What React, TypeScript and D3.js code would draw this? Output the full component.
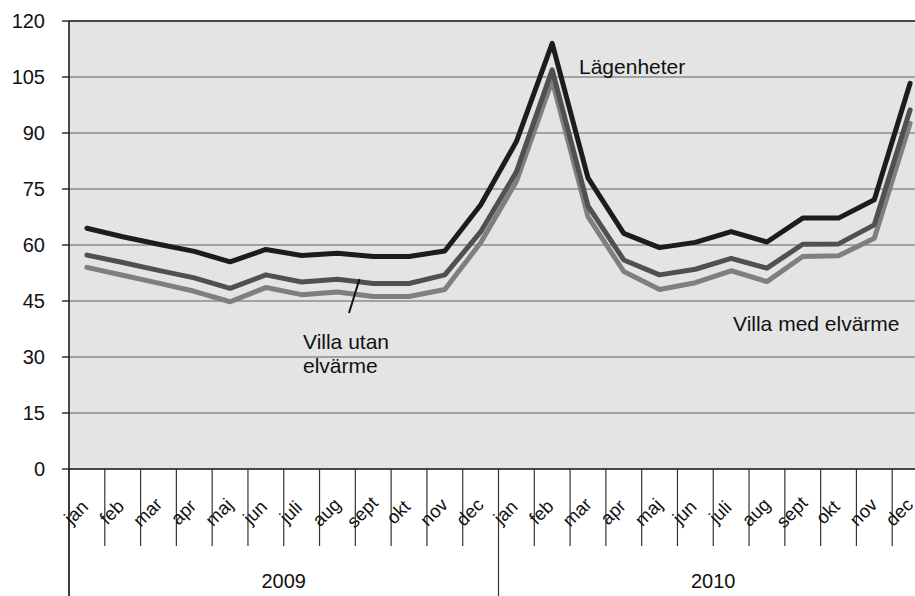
import React from 'react';
import * as d3 from 'd3';

const months = ['jan', 'feb', 'mar', 'apr', 'maj', 'jun', 'juli', 'aug', 'sept', 'okt', 'nov', 'dec'];
const years = ['2009', '2010'];
const yTicks = [0, 15, 30, 45, 60, 75, 90, 105, 120];

const lagenheter = [64.5, 62.2, 60.2, 58.3, 55.5, 58.8, 57.2, 57.8, 56.9, 56.9, 58.4, 70.7,
  87.7, 114, 78, 63.1, 59.3, 60.7, 63.6, 60.8, 67.2, 67.2, 72.1, 103.3];
const villaUtan = [57.3, 55.3, 53.2, 51.2, 48.4, 52, 50.1, 50.8, 49.7, 49.7, 52, 63.5,
  79.6, 106.9, 70.5, 56, 52, 53.5, 56.4, 53.8, 60.2, 60.3, 65.4, 96.2];
const villaMed = [54, 51.9, 49.8, 47.6, 44.8, 48.6, 46.7, 47.4, 46.2, 46.2, 48.1, 60.6,
  77, 104, 67.6, 52.9, 48.1, 49.9, 53.1, 50.2, 56.9, 57.1, 61.8, 92.6];

const series = [
  { name: 'Villa med elvärme', values: villaMed, color: '#7f7f7f' },
  { name: 'Villa utan elvärme', values: villaUtan, color: '#505050' },
  { name: 'Lägenheter', values: lagenheter, color: '#1c1c1c' },
];

const W = 915;
const H = 596;
const left = 69;
const right = 928;
const top = 21;
const bottom = 469;
const font = '"Liberation Sans", Arial, sans-serif';

export default function App() {
  const cats = years.flatMap((yr) => months.map((m) => `${m}-${yr}`));
  const x = d3.scaleBand<string>().domain(cats).range([left, right]).paddingInner(0).paddingOuter(0);
  const y = d3.scaleLinear().domain([0, 120]).range([bottom, top]);
  const cx = (i: number) => (x(cats[i]) as number) + x.bandwidth() / 2;

  const line = d3.line<number>()
    .x((_, i) => cx(i))
    .y((d) => y(d));

  const yearX = d3.scaleBand<string>().domain(years).range([left, right]);

  return (
    <svg width={W} height={H} style={{ position: 'absolute', left: 0, top: 0, background: '#fff' }}
      fontFamily={font}>
      <rect x={left} y={top} width={right - left} height={bottom - top} fill="#e4e4e4" />
      {yTicks.filter((t) => t > 0 && t < 120).map((t) => (
        <line key={t} x1={left} x2={right} y1={y(t)} y2={y(t)} stroke="#8c8c8c" strokeWidth={1.3} />
      ))}
      <line x1={left} x2={right} y1={top} y2={top} stroke="#111" strokeWidth={1.3} />

      {series.map((s) => (
        <path key={s.name} d={line(s.values) || ''} fill="none" stroke={s.color}
          strokeWidth={5} strokeLinejoin="round" strokeLinecap="round" />
      ))}

      {/* y axis */}
      <line x1={left} x2={left} y1={top} y2={H} stroke="#111" strokeWidth={1.5} />
      {yTicks.map((t) => (
        <g key={t}>
          <line x1={left - 7} x2={left} y1={y(t)} y2={y(t)} stroke="#111" strokeWidth={1.3} />
          <text x={45} y={y(t)} textAnchor="end" dominantBaseline="central" fontSize={20} fill="#111">{t}</text>
        </g>
      ))}

      {/* x axis */}
      <line x1={left} x2={right} y1={bottom} y2={bottom} stroke="#111" strokeWidth={1.5} />
      {cats.map((c, i) => (
        <line key={c} x1={x(c) as number} x2={x(c) as number} y1={bottom} y2={i % 12 === 0 ? H : 546}
          stroke="#333" strokeWidth={1.2} />
      ))}
      <line x1={right} x2={right} y1={bottom} y2={H} stroke="#333" strokeWidth={1.2} />
      {cats.map((c, i) => (
        <text key={c} transform={`translate(${cx(i) - 11},512) rotate(-45)`} textAnchor="middle"
          dominantBaseline="central" fontSize={18.5} fill="#111">{months[i % 12]}</text>
      ))}
      {years.map((yr) => (
        <text key={yr} x={(yearX(yr) as number) + yearX.bandwidth() / 2} y={588} textAnchor="middle"
          fontSize={20} fill="#111">{yr}</text>
      ))}

      {/* annotations */}
      <text x={579} y={74} fontSize={21} fill="#111">Lägenheter</text>
      <text x={733} y={331} fontSize={21} fill="#111">Villa med elvärme</text>
      <text x={303} y={349} fontSize={21} fill="#111">
        <tspan x={303}>Villa utan</tspan>
        <tspan x={303} dy={23.5}>elvärme</tspan>
      </text>
      <line x1={349} y1={313} x2={359.5} y2={279} stroke="#111" strokeWidth={2} />
    </svg>
  );
}
